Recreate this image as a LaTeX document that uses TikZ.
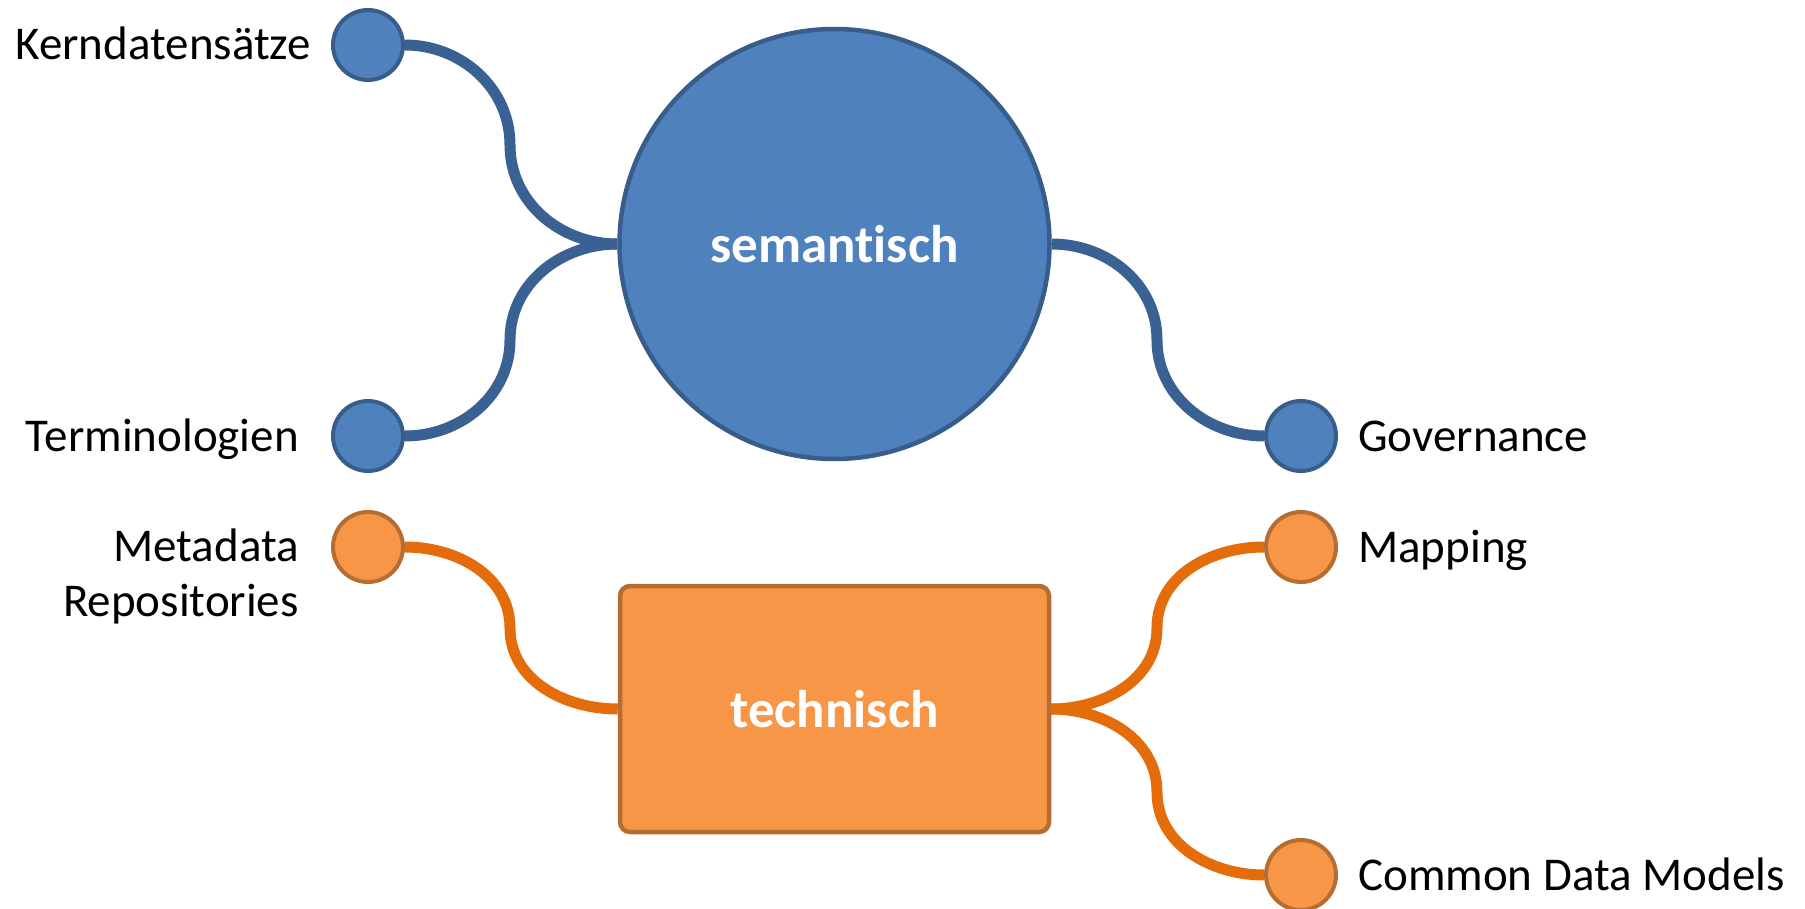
\documentclass[tikz,border=0pt]{standalone}
\usepackage{fontspec}
\setmainfont{Carlito}[Ligatures=NoCommon]
\usetikzlibrary{backgrounds}
\definecolor{bfill}{HTML}{4F81BD}
\definecolor{bline}{HTML}{385D8A}
\definecolor{bcon}{HTML}{3A6194}
\definecolor{ofill}{HTML}{F79646}
\definecolor{oline}{HTML}{B66D31}
\definecolor{ocon}{HTML}{E46C0A}
\begin{document}
\begin{tikzpicture}[x=1pt,y=-1pt,
 dot/.style={circle, minimum size=70pt, inner sep=0pt, line width=4pt},
 bdot/.style={dot, fill=bfill, draw=bline},
 odot/.style={dot, fill=ofill, draw=oline},
 lbl/.style={font=\fontsize{47}{55}\selectfont, inner sep=0pt},
 hub/.style={font=\bfseries\fontsize{53}{60}\selectfont, text=white},
 bconn/.style={draw=bcon, line width=11pt},
 oconn/.style={draw=ocon, line width=11pt}]
\useasboundingbox (0,0) rectangle (1805,909);
% hubs
\node[hub, circle, minimum size=430pt, line width=4.5pt, fill=bfill, draw=bline] (sem) at (834.5,244) {semantisch};
\node[hub, rectangle, rounded corners=10pt, minimum width=429pt, minimum height=246pt, line width=4.5pt, fill=ofill, draw=oline] (tech) at (834.5,709) {technisch};
% leaves
\node[bdot] (kern) at (368,45) {};
\node[bdot] (term) at (368,436) {};
\node[bdot] (gov) at (1301,436) {};
\node[odot] (meta) at (368,547) {};
\node[odot] (map) at (1301,547) {};
\node[odot] (cdm) at (1301,875) {};
% labels
\node[lbl, anchor=base east] (kernL) at (311,60) {Kerndatensätze};
\node[lbl, anchor=base east] (termL) at (299,451) {Terminologien};
\node[lbl, anchor=base west] (govL) at (1358,451) {Governance};
\node[lbl, anchor=north east, align=right] (metaL) at (299,529) {Metadata\\Repositories};
\node[lbl, anchor=base west] (mapL) at (1358,562) {Mapping};
\node[lbl, anchor=base west] (cdmL) at (1358,890) {Common Data Models};
% bend points
\coordinate (k1) at (510,145);
\coordinate (t1) at (510,340);
\coordinate (g1) at (1157,340);
\coordinate (m1) at (510,628);
\coordinate (p1) at (1157,628);
\coordinate (c1) at (1157,792);
\begin{scope}[on background layer]
\draw[bconn] (kern.east) to[out=0,in=90] (k1) to[out=-90,in=180] (sem.west);
\draw[bconn] (term.east) to[out=0,in=-90] (t1) to[out=90,in=180] (sem.west);
\draw[bconn] (sem.east) to[out=0,in=90] (g1) to[out=-90,in=180] (gov.west);
\draw[oconn] (meta.east) to[out=0,in=90] (m1) to[out=-90,in=180] (tech.west);
\draw[oconn] (tech.east) to[out=0,in=-90] (p1) to[out=90,in=180] (map.west);
\draw[oconn] (tech.east) to[out=0,in=90] (c1) to[out=-90,in=180] (cdm.west);
\end{scope}
\end{tikzpicture}
\end{document}
